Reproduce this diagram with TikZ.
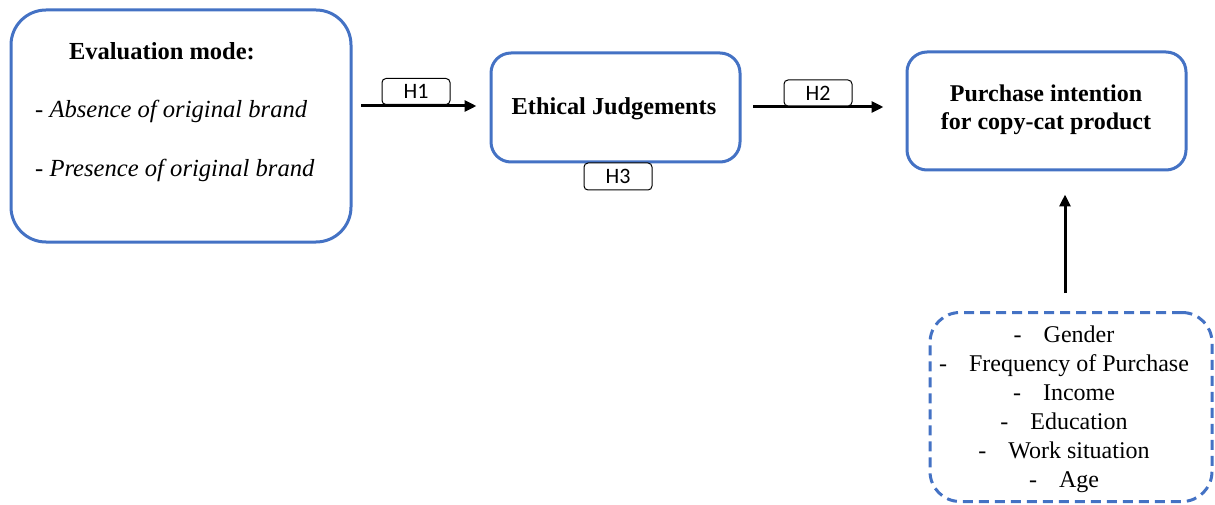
\documentclass[tikz,border=0pt]{standalone}
\usepackage{fontspec}
\setmainfont{Liberation Serif}
\newfontfamily\hfont{Carlito}
\usetikzlibrary{arrows.meta}
\definecolor{boxblue}{HTML}{4472C4}
\tikzset{
  bluebox/.style={draw=boxblue, line width=3pt, minimum width=#1, inner sep=0pt},
  hbox/.style={draw=black, line width=1pt, rounded corners=4pt, minimum width=68pt, minimum height=26pt, inner sep=0pt, font=\hfont\fontsize{22}{24}\selectfont, fill=white},
  arr/.style={line width=3pt, -{Triangle[length=12pt,width=11pt]}},
  txt/.style={inner sep=0pt, font=\fontsize{24}{29}\selectfont},
}
\begin{document}
\begin{tikzpicture}[x=1pt,y=1pt]
\useasboundingbox (0,0) rectangle (1215,-505);
% boxes
\node[bluebox=340pt, minimum height=232pt, rounded corners=35pt] (box1) at (181,-126) {};
\node[bluebox=249pt, minimum height=109pt, rounded corners=20pt] (box2) at (615.5,-107.5) {};
\node[bluebox=279pt, minimum height=118pt, rounded corners=20pt] (box3) at (1046.5,-111) {};
\node[bluebox=282pt, minimum height=189pt, rounded corners=30pt, dash pattern=on 10pt off 6pt] (box4) at (1071,-407) {};
% box1 texts
\node[txt, anchor=base, font=\bfseries\fontsize{24.5}{29}\selectfont] (evt) at (162,-60) {Evaluation mode:};
\node[txt, anchor=base west, font=\itshape\fontsize{24.6}{29}\selectfont] (ev1) at (35,-118) {- Absence of original brand};
\node[txt, anchor=base west, font=\itshape\fontsize{24.6}{29}\selectfont] (ev2) at (35,-177) {- Presence of original brand};
% box2 text
\node[txt, anchor=base, font=\bfseries\fontsize{24.3}{29}\selectfont] (ejt) at (614,-115) {Ethical Judgements};
% box3 text
\node[txt, anchor=base, font=\bfseries\fontsize{24}{29}\selectfont] (pi1) at (1046,-102) {Purchase intention};
\node[txt, anchor=base, font=\bfseries\fontsize{24}{29}\selectfont] (pi2) at (1046,-130) {for copy-cat product};
% control variables
\foreach \t [count=\i] in {Gender, Frequency of Purchase, Income, Education, Work situation, Age}{
  \node[txt, anchor=base] (cv\i) at (1064,{-342-29*(\i-1)}) {-\hspace{22pt}\t};
}
% arrows
\coordinate (h1s) at (361,-106);
\draw[arr, shorten >=13pt] (h1s) -- (h1s -| box2.west);
\coordinate (h2s) at (753,-107);
\draw[arr, shorten >=22pt] (h2s) -- (h2s -| box3.west);
\coordinate (vs) at (1065,-293);
\draw[arr, shorten >=23pt] (vs) -- (vs |- box3.south);
% hypothesis labels
\node[hbox] (H1) at (416,-91.5) {H1};
\node[hbox] (H2) at (818,-93) {H2};
\node[hbox, minimum height=27pt] (H3) at (618,-176.5) {H3};
\end{tikzpicture}
\end{document}
